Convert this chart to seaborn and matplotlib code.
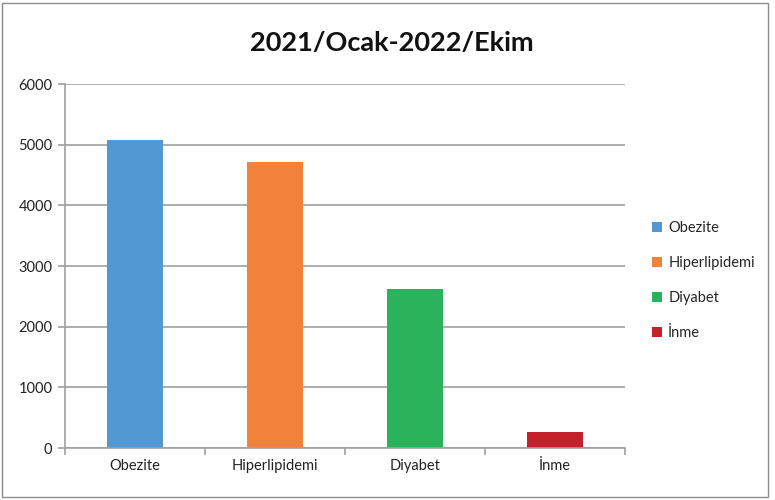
import numpy as np
import pandas as pd
import matplotlib
matplotlib.use('Agg')
import matplotlib.pyplot as plt
from matplotlib.patches import Rectangle
import seaborn as sns

# values
categories = ['Obezite', 'Hiperlipidemi', 'Diyabet', 'İnme']
counts = [5080, 4720, 2620, 260]
colors = ['#5298D3', '#F0823C', '#2BB35C', '#C3222A']
title = '2021/Ocak-2022/Ekim'
yticks = [0, 1000, 2000, 3000, 4000, 5000, 6000]

sns.set_style('white')
plt.rcParams['font.family'] = ['Lato', 'DejaVu Sans']

df = pd.DataFrame({'kategori': categories, 'sayi': counts})

fig = plt.figure(figsize=(7.75, 5), dpi=100)
ax = fig.add_axes([65 / 775, 52 / 500, 560 / 775, 364 / 500])

sns.barplot(data=df, x='kategori', y='sayi', hue='kategori', order=categories,
            hue_order=categories, palette=colors, width=0.4, dodge=False,
            legend=True, ax=ax, saturation=1, edgecolor='none')

ax.set_ylim(0, 6000)
ax.set_xlim(-0.5, len(categories) - 0.5)
ax.set_yticks(yticks)
ax.set_yticklabels([str(v) for v in yticks], fontsize=10.5, color='#222222')
ax.yaxis.grid(True, color='#A0A0A0', linewidth=1.2)
ax.set_axisbelow(True)
ax.set_xlabel('')
ax.set_ylabel('')
ax.tick_params(axis='x', length=0, labelsize=10.5, labelcolor='#222222', pad=8)
ax.tick_params(axis='y', left=True, length=5, width=1.2, color='#A0A0A0', pad=4)

# category boundary ticks on the x axis
ax.set_xticks(np.arange(-0.5, len(categories), 1.0), minor=True)
ax.tick_params(axis='x', which='minor', bottom=True, length=5, width=1.2, color='#A0A0A0')

for side in ['top', 'right']:
    ax.spines[side].set_visible(False)
for side in ['left', 'bottom']:
    ax.spines[side].set_color('#A0A0A0')
    ax.spines[side].set_linewidth(1.2)

fig.text(392 / 775, 1 - 43 / 500, title, ha='center', va='center',
         fontsize=19.5, fontweight='bold', color='#111111')

leg = ax.legend(loc='center left', bbox_to_anchor=(1.025, 0.46), frameon=False,
                fontsize=10.5, handlelength=0.7, handleheight=0.7,
                labelspacing=1.45, handletextpad=0.4)

# chart area border
fig.patches.append(Rectangle((2 / 775, 3 / 500), 766 / 775, 494 / 500,
                             transform=fig.transFigure, fill=False,
                             edgecolor='#8C8C8C', linewidth=1))

fig.savefig('out.png', dpi=100)
